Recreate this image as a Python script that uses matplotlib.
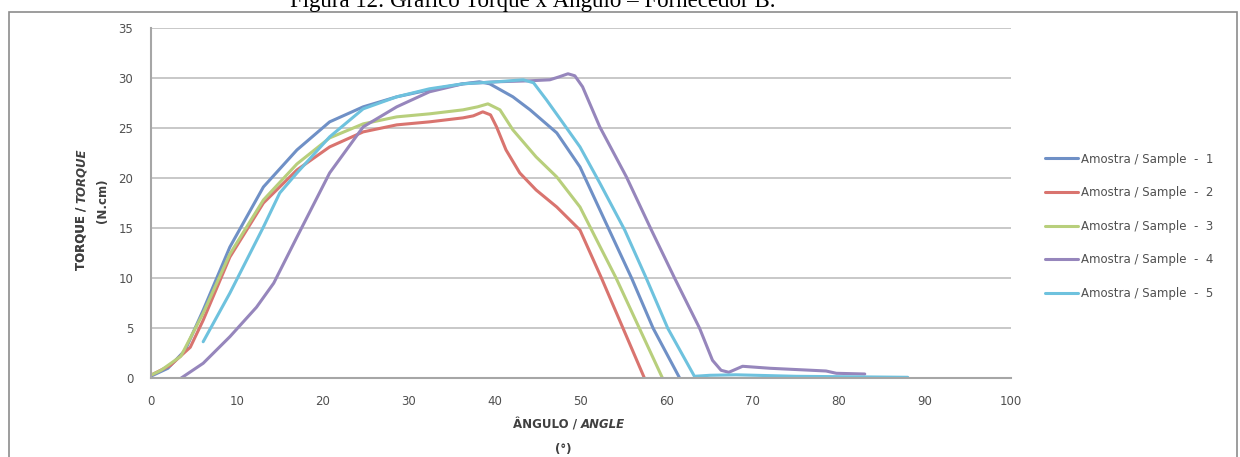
import matplotlib
matplotlib.use("Agg")
import matplotlib.pyplot as plt
from matplotlib.patches import Rectangle

# ---------------- data ----------------
title = "Figura 12: Gráfico Torque x Ângulo – Fornecedor B."
labels = ["Amostra / Sample  -  1", "Amostra / Sample  -  2", "Amostra / Sample  -  3",
          "Amostra / Sample  -  4", "Amostra / Sample  -  5"]

x1 = [0, 2, 4, 6.1, 9.2, 13.1, 17.0, 20.8, 24.7, 28.6, 32.4, 36.3, 38.2, 39.4,
      42.1, 44.1, 47.2, 49.9, 53.3, 55.9, 58.4, 61.5]
y1 = [0.2, 1.0, 2.8, 6.8, 13.1, 19.1, 22.8, 25.6, 27.1, 28.1, 28.8, 29.4, 29.6, 29.4,
      28.1, 26.8, 24.5, 21.1, 14.8, 10.0, 5.0, 0.0]

x2 = [0, 2.3, 4.6, 6.1, 9.2, 13.1, 17.0, 20.8, 24.7, 28.6, 32.4, 36.3, 37.5, 38.6,
      39.5, 40.2, 41.3, 42.9, 44.8, 47.2, 49.9, 52.4, 54.9, 57.4]
y2 = [0.3, 1.3, 3.1, 5.8, 12.1, 17.5, 20.8, 23.1, 24.6, 25.3, 25.6, 26.0, 26.2, 26.6,
      26.3, 25.1, 22.8, 20.5, 18.8, 17.1, 14.8, 10.0, 5.0, 0.0]

x3 = [0, 1.2, 3.5, 6.1, 9.2, 13.1, 17.0, 20.8, 24.7, 28.6, 32.4, 36.3, 38.0, 39.2,
      40.6, 42.1, 44.8, 47.2, 49.9, 52.2, 54.1, 56.8, 59.5]
y3 = [0.3, 0.8, 2.2, 6.5, 12.4, 17.8, 21.4, 24.0, 25.4, 26.1, 26.4, 26.8, 27.1, 27.4,
      26.8, 24.8, 22.1, 20.1, 17.1, 13.2, 10.0, 5.0, 0.0]

x4 = [3.5, 6.1, 9.2, 12.3, 14.3, 17.0, 20.8, 24.7, 28.6, 32.4, 36.3, 40.2, 44.1, 46.4,
      47.5, 48.5, 49.3, 50.2, 52.2, 55.3, 58.2, 60.9, 63.8, 65.3, 66.3, 67.2, 68.8,
      72.0, 78.5, 79.7, 83.0]
y4 = [0.0, 1.5, 4.15, 7.1, 9.5, 14.1, 20.5, 25.1, 27.1, 28.6, 29.4, 29.6, 29.7, 29.8,
      30.1, 30.4, 30.2, 29.1, 25.1, 20.1, 14.8, 10.0, 5.0, 1.8, 0.8, 0.6, 1.2,
      1.0, 0.73, 0.5, 0.43]

x5 = [6.1, 9.2, 13.1, 15.0, 17.0, 20.8, 24.7, 28.6, 32.4, 36.3, 40.2, 43.3, 44.5, 46.0,
      47.5, 49.9, 52.2, 55.1, 57.6, 60.1, 63.2, 65.0, 68.0, 75.0, 88.0]
y5 = [3.65, 8.5, 15.1, 18.5, 20.5, 24.1, 26.9, 28.1, 28.9, 29.4, 29.6, 29.8, 29.5, 27.8,
      26.0, 23.1, 19.5, 14.8, 10.0, 5.0, 0.2, 0.3, 0.35, 0.2, 0.1]

xticks = list(range(0, 101, 10))
yticks = list(range(0, 36, 5))

series = [(x1, y1), (x2, y2), (x3, y3), (x4, y4), (x5, y5)]
colors = ["#6F90C6", "#D9746F", "#B8CF7C", "#9686BC", "#6EC2DE"]

# ---------------- figure ----------------
W, H = 1240, 457
fig = plt.figure(figsize=(W / 100, H / 100), dpi=100)
fig.patch.set_facecolor("white")

def fx(px):
    return px / W

def fy(py):
    return 1 - py / H

ax = fig.add_axes([fx(150.7), fy(378.3), fx(1011) - fx(150.7), fy(27.7) - fy(378.3)])

for (xs, ys), c, lab in zip(series, colors, labels):
    ax.plot(xs, ys, color=c, lw=2.2, label=lab, solid_joinstyle="round",
            solid_capstyle="round")

ax.set_xlim(0, 100)
ax.set_ylim(0, 35)
ax.set_xticks(xticks)
ax.set_yticks(yticks)
ax.grid(axis="y", color="#C4C4C4", lw=1.3)
ax.set_axisbelow(True)
for s in ["top", "right"]:
    ax.spines[s].set_visible(False)
for s in ["left", "bottom"]:
    ax.spines[s].set_color("#A6A6A6")
    ax.spines[s].set_linewidth(1.5)
ax.tick_params(axis="both", length=0, labelsize=8.5, labelcolor="#505050")
ax.tick_params(axis="y", pad=12.5)
ax.tick_params(axis="x", pad=12)
for t in ax.get_xticklabels() + ax.get_yticklabels():
    t.set_fontfamily("DejaVu Sans")

# legend
leg = ax.legend(loc="upper left", bbox_to_anchor=(fx(1045), fy(152.5)),
                bbox_transform=fig.transFigure, frameon=False, borderpad=0,
                borderaxespad=0, handlelength=2.8, handletextpad=0.25,
                labelspacing=1.75, prop={"family": "DejaVu Sans", "size": 8.5})
for t in leg.get_texts():
    t.set_color("#505050")

# title (partially clipped at the top, as in the source)
fig.text(fx(290), fy(7.3), title, fontsize=16.5, family="Liberation Serif",
         ha="left", va="baseline", color="black")

# frame
fig.patches.append(Rectangle((fx(9), fy(470)), fx(1237) - fx(9), fy(11.5) - fy(470),
                             transform=fig.transFigure, fill=False,
                             edgecolor="#8C8C8C", lw=1.2))

lab_color = "#404040"
# y label: "TORQUE / " bold + "TORQUE" bold italic, rotated
t1 = fig.text(fx(81), fy(270), "TORQUE / ", rotation=90, ha="center", va="bottom",
              fontsize=8.5, fontweight="bold", family="DejaVu Sans", color=lab_color)
fig.texts.append(t1)
ann1 = fig.add_artist(matplotlib.text.Annotation(
    "TORQUE", xy=(1, 1), xycoords=t1, ha="right", va="bottom", rotation=90,
    fontsize=8.5, fontweight="bold", fontstyle="italic", family="DejaVu Sans",
    color=lab_color))
fig.text(fx(103), fy(201), "(N.cm)", rotation=90, ha="center", va="center",
         fontsize=8.5, fontweight="bold", family="DejaVu Sans", color=lab_color)

# x label
t2 = fig.text(fx(513), fy(431), "ÂNGULO / ", ha="left", va="bottom",
              fontsize=8.5, fontweight="bold", family="DejaVu Sans", color=lab_color)
fig.add_artist(matplotlib.text.Annotation(
    "ANGLE", xy=(1, 0), xycoords=t2, ha="left", va="bottom",
    fontsize=8.5, fontweight="bold", fontstyle="italic", family="DejaVu Sans",
    color=lab_color))
fig.text(fx(563), fy(449), "(°)", ha="center", va="center",
         fontsize=8.5, fontweight="bold", family="DejaVu Sans", color=lab_color)

fig.savefig("out.png", dpi=100, facecolor="white")
